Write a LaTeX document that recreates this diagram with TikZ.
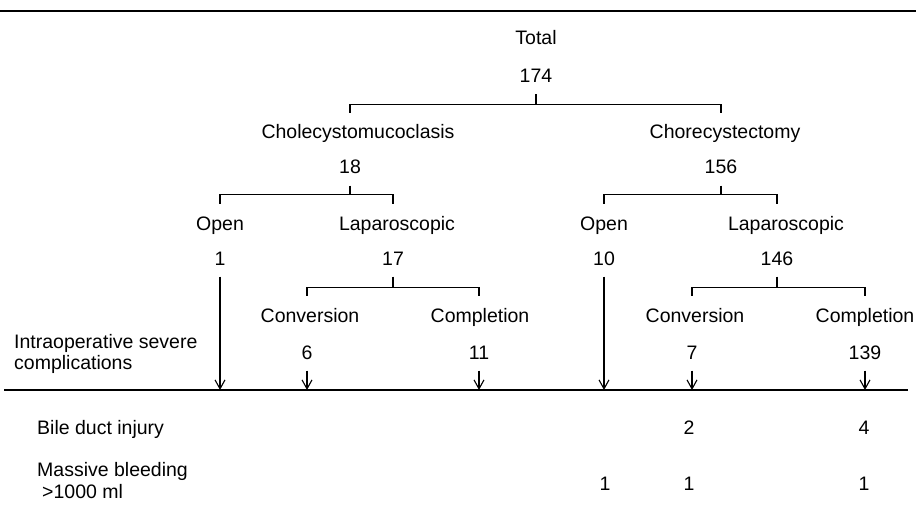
\documentclass[tikz,border=0pt]{standalone}
\usepackage{fontspec}
\setmainfont{Liberation Sans}
\usetikzlibrary{arrows.meta, positioning}

\begin{document}
\begin{tikzpicture}[x=1pt, y=-1pt,
                font=\fontsize{19.5}{21}\selectfont,
                lbl/.style={inner xsep=1pt, inner ysep=0pt, text height=14pt, text depth=0pt, minimum height=37pt},
                cnt/.style={lbl},
                rowlbl/.style={anchor=west, align=left, inner sep=0pt},
                brk/.style={line width=1.1pt},
                arr/.style={line width=1.1pt, -{Straight Barb[length=9pt, width=10pt]}},
                rulebar/.style={line width=2.4pt}]

                \useasboundingbox (0,0) rectangle (916,516);

                % Rules
                \coordinate (topL) at (0,11);
                \coordinate (topR) at (916,11);
                \coordinate (botL) at (4,390);
                \coordinate (botR) at (908,390);
                \draw[rulebar] (topL) -- (topR);
                \draw[rulebar] (botL) -- (botR);

                % Total
                \node[lbl] at (536,38) (total) {Total};
                \node[cnt, below=0pt of total] (n174) {174};

                % Procedures
                \node[lbl] at (358,132) (chol) {Cholecystomucoclasis};
                \node[cnt] at (350,167) (n18) {18};
                \node[lbl] at (725,132) (chor) {Chorecystectomy};
                \node[cnt] at (721,167) (n156) {156};

                % Approach - cholecystomucoclasis
                \node[lbl] at (220,223) (openL) {Open};
                \node[cnt] at (220,258) (n1) {1};
                \node[lbl] at (397,223) (lapL) {Laparoscopic};
                \node[cnt] at (393,258) (n17) {17};

                % Approach - cholecystectomy
                \node[lbl] at (604,223) (openR) {Open};
                \node[cnt] at (604,258) (n10) {10};
                \node[lbl] at (786,223) (lapR) {Laparoscopic};
                \node[cnt] at (777,258) (n146) {146};

                % Conversion / completion
                \node[lbl] at (310,315) (convL) {Conversion};
                \node[cnt] at (307,352) (n6) {6};
                \node[lbl] at (480,315) (compL) {Completion};
                \node[cnt] at (479,352) (n11) {11};
                \node[lbl] at (695,315) (convR) {Conversion};
                \node[cnt] at (692,352) (n7) {7};
                \node[lbl] at (865,315) (compR) {Completion};
                \node[cnt] at (865,352) (n139) {139};

                % Brackets
                \draw[brk] (n174.south) -- ++(0,10) coordinate (j0) -| (n18 |- chol.north);
                \draw[brk] (j0) -| (n156 |- chor.north);
                \draw[brk] (n18.south) -- ++(0,9) coordinate (j1) -| (n1 |- openL.north);
                \draw[brk] (j1) -| (n17 |- lapL.north);
                \draw[brk] (n156.south) -- ++(0,9) coordinate (j2) -| (n10 |- openR.north);
                \draw[brk] (j2) -| (n146 |- lapR.north);
                \draw[brk] (n17.south) -- ++(0,11) coordinate (j3) -| (n6 |- convL.north);
                \draw[brk] (j3) -| (n11 |- compL.north);
                \draw[brk] (n146.south) -- ++(0,11) coordinate (j4) -| (n7 |- convR.north);
                \draw[brk] (j4) -| (n139 |- compR.north);

                % Arrows down to the rule
                \foreach \n in {n1, n6, n11, n10, n7, n139}
                    \draw[arr] (\n.south) -- (\n.south |- botL);

                % Row labels
                \node[rowlbl] at (14,354) (intra) {Intraoperative severe\\complications};
                \node[rowlbl] at (37,429) (bile) {Bile duct injury};
                \node[rowlbl] at (37,481) (bleed) {Massive bleeding\\[1pt]\hspace*{5pt}>1000 ml};

                % Complication counts
                \node[cnt] at (689,427) (bile7) {2};
                \node[cnt] at (864,427) (bile139) {4};
                \node[cnt] at (605,483) (bleed10) {1};
                \node[cnt] at (689,483) (bleed7) {1};
                \node[cnt] at (864,483) (bleed139) {1};
            \end{tikzpicture}
\end{document}
